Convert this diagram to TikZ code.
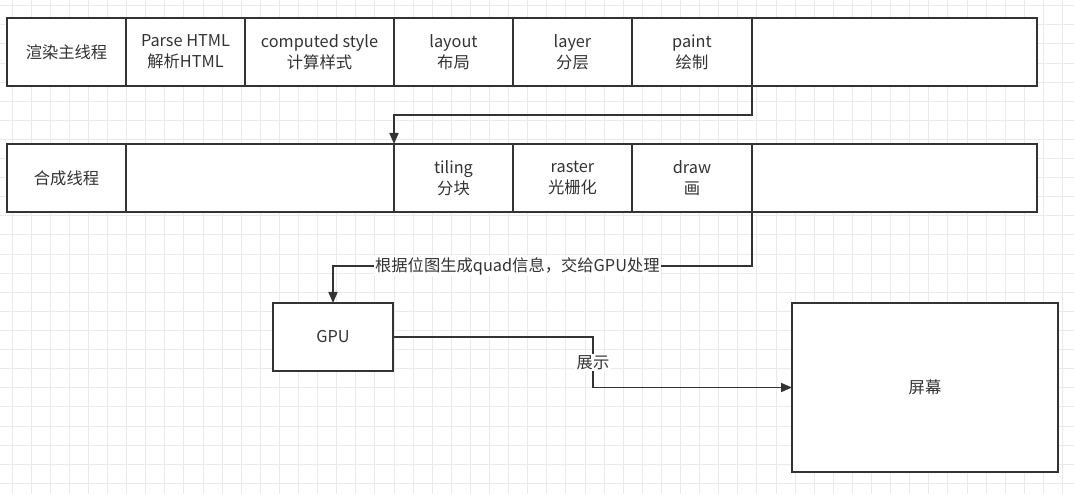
\documentclass[tikz,border=0pt]{standalone}
\usepackage{fontspec}
\setmainfont{Noto Sans CJK SC}
\usetikzlibrary{positioning,arrows.meta}
\definecolor{ink}{HTML}{333333}
\definecolor{gridc}{HTML}{EAEAEA}
\begin{document}
\begin{tikzpicture}[x=1pt, y=-1pt, node distance=0pt, line width=1.6pt,
    main/.style = {draw=ink, fill=white, rectangle, minimum height=68pt, outer sep=0pt, inner sep=0pt, align=center, text=ink, font=\fontsize{16.3}{21}\selectfont},
    flow/.style = {draw=ink, -{Triangle[length=11pt,width=9pt]}},
    lbl/.style = {fill=white, inner sep=1.5pt, text=ink, font=\fontsize{16.3}{21}\selectfont},
    gridline/.style = {draw=gridc, line width=1pt}]
    \useasboundingbox (0,0) rectangle (1074,494);
    \fill[white] (0,0) rectangle (1074,494);
    % grid
    \foreach \k in {0,...,55} \draw[gridline] (12+19.1*\k,0) -- (12+19.1*\k,494);
    \foreach \k in {0,...,25} \draw[gridline] (0,5.8+19.1*\k) -- (1074,5.8+19.1*\k);
    % main thread
    \node[main, minimum width=119pt] (1) at (66.5,52) {渲染主线程};
    \node[main, minimum width=119pt] (2) [right=of 1] {Parse HTML\\解析HTML};
    \node[main, minimum width=149pt] (3) [right=of 2] {computed style\\计算样式};
    \node[main, minimum width=119pt] (4) [right=of 3] {layout\\布局};
    \node[main, minimum width=119pt] (5) [right=of 4] {layer\\分层};
    \node[main, minimum width=120pt] (6) [right=of 5] {paint\\绘制};
    \node[main, minimum width=285pt] (7) [right=of 6] {};
    % compositor thread
    \node[main, minimum width=119pt] (8) at (66.5,178) {合成线程};
    \node[main, minimum width=268pt] (9) [right=of 8] {};
    \node[main, minimum width=119pt] (10) [right=of 9] {tiling\\分块};
    \node[main, minimum width=119pt] (11) [right=of 10] {raster\\光栅化};
    \node[main, minimum width=120pt] (12) [right=of 11] {draw\\画};
    \node[main, minimum width=285pt] (13) [right=of 12] {};
    % output
    \node[main, minimum width=120pt] (14) at (333,337) {GPU};
    \node[main, minimum width=266pt, minimum height=169pt] (15) at (925,387.5) {屏幕};
    \draw[flow] (6.south east) -- ++(0,29) -| (10.north west);
    \draw[flow] (12.south east) -- ++(0,54) -| node[lbl, pos=0.28] {根据位图生成quad信息，交给GPU处理} (14.north);
    \draw[flow] (14.east) -- ++(200,0) |- node[lbl, pos=0.25] {展示} (15.west);
\end{tikzpicture}
\end{document}
